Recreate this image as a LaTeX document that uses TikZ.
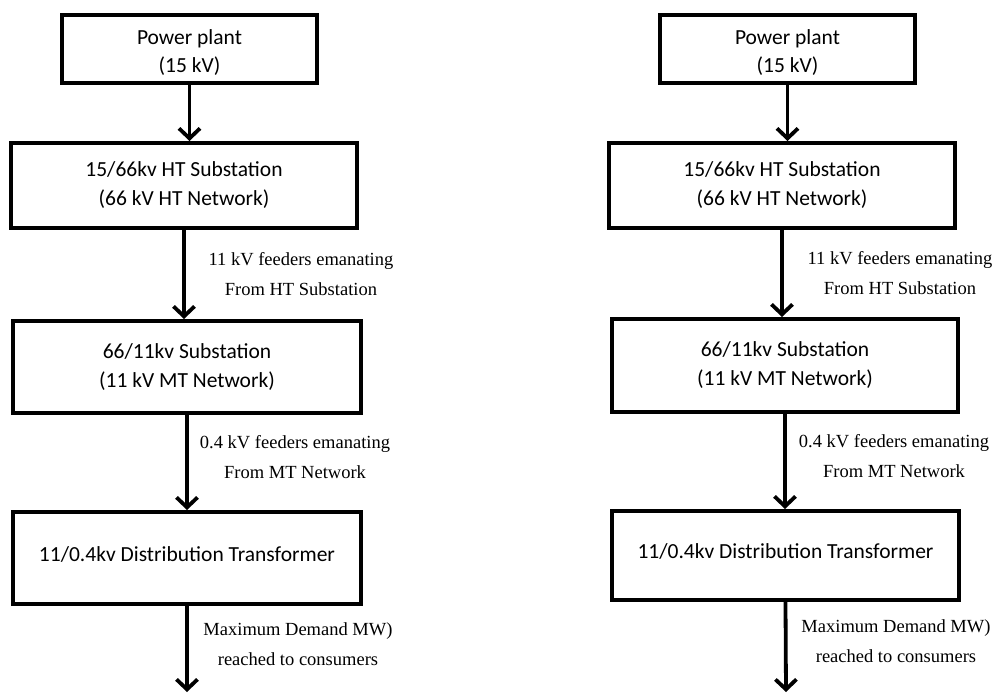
\documentclass[tikz,border=0pt]{standalone}
\usepackage{fontspec}
\setmainfont{Liberation Serif}
\newfontfamily\boxfont{Carlito}
\usetikzlibrary{arrows.meta}
\begin{document}
\begin{tikzpicture}[x=1pt,y=-1pt,
  box/.style={draw, line width=4pt, inner sep=0pt, align=center,
    font=\boxfont\fontsize{21.5}{29}\selectfont},
  flow/.style={line width=3.8pt,
    -{Straight Barb[length=10pt,width=21pt,line width=3.8pt]}},
  lbl/.style={align=center, inner sep=0pt, font=\fontsize{18.5}{29.5}\selectfont}]
\useasboundingbox (0,0) rectangle (997,693);
% ---------- left column ----------
\node[box, minimum width=255pt, minimum height=68pt] (l1) at (189.5,49) {\rule{0pt}{21pt}Power plant\\[-1pt](15 kV)};
\node[box, minimum width=346pt, minimum height=85pt] (l2) at (184,185.5) {15/66kv HT Substation\\(66 kV HT Network)};
\node[box, minimum width=348pt, minimum height=92pt] (l3) at (187,367) {66/11kv Substation\\(11 kV MT Network)};
\node[box, minimum width=348pt, minimum height=92pt] (l4) at (187,558) {\raisebox{8pt}{11/0.4kv Distribution Transformer}};
\coordinate (lend) at (187,692);
\draw[flow] (l1.south) -- (l1.south |- l2.north);
\draw[flow] (l2.south) -- (l2.south |- l3.north);
\draw[flow] (l3.south) -- (l3.south |- l4.north);
\draw[flow] (l4.south) -- (lend);
\node[lbl] (lt1) at (301,274) {11 kV feeders emanating\\From HT Substation};
\node[lbl] (lt2) at (295,457) {0.4 kV feeders emanating\\From MT Network};
\node[lbl] (lt3) at (298,644) {Maximum Demand MW)\\reached to consumers};
% ---------- right column ----------
\node[box, minimum width=255pt, minimum height=68pt] (r1) at (787.5,49) {\rule{0pt}{21pt}Power plant\\[-1pt](15 kV)};
\node[box, minimum width=346pt, minimum height=85pt] (r2) at (782,185.5) {15/66kv HT Substation\\(66 kV HT Network)};
\node[box, minimum width=346pt, minimum height=93pt] (r3) at (785,365.5) {66/11kv Substation\\(11 kV MT Network)};
\node[box, minimum width=347pt, minimum height=89pt] (r4) at (785.5,555.5) {\raisebox{8pt}{11/0.4kv Distribution Transformer}};
\coordinate (rend) at (786,692);
\draw[flow] (r1.south) -- (r1.south |- r2.north);
\draw[flow] (r2.south) -- (r2.south |- r3.north);
\draw[flow] (r3.south) -- (r3.south |- r4.north);
\draw[flow] (r4.south) -- (rend);
\node[lbl] (rt1) at (900,273) {11 kV feeders emanating\\From HT Substation};
\node[lbl] (rt2) at (894,456) {0.4 kV feeders emanating\\From MT Network};
\node[lbl] (rt3) at (896,641) {Maximum Demand MW)\\reached to consumers};
\end{tikzpicture}
\end{document}
